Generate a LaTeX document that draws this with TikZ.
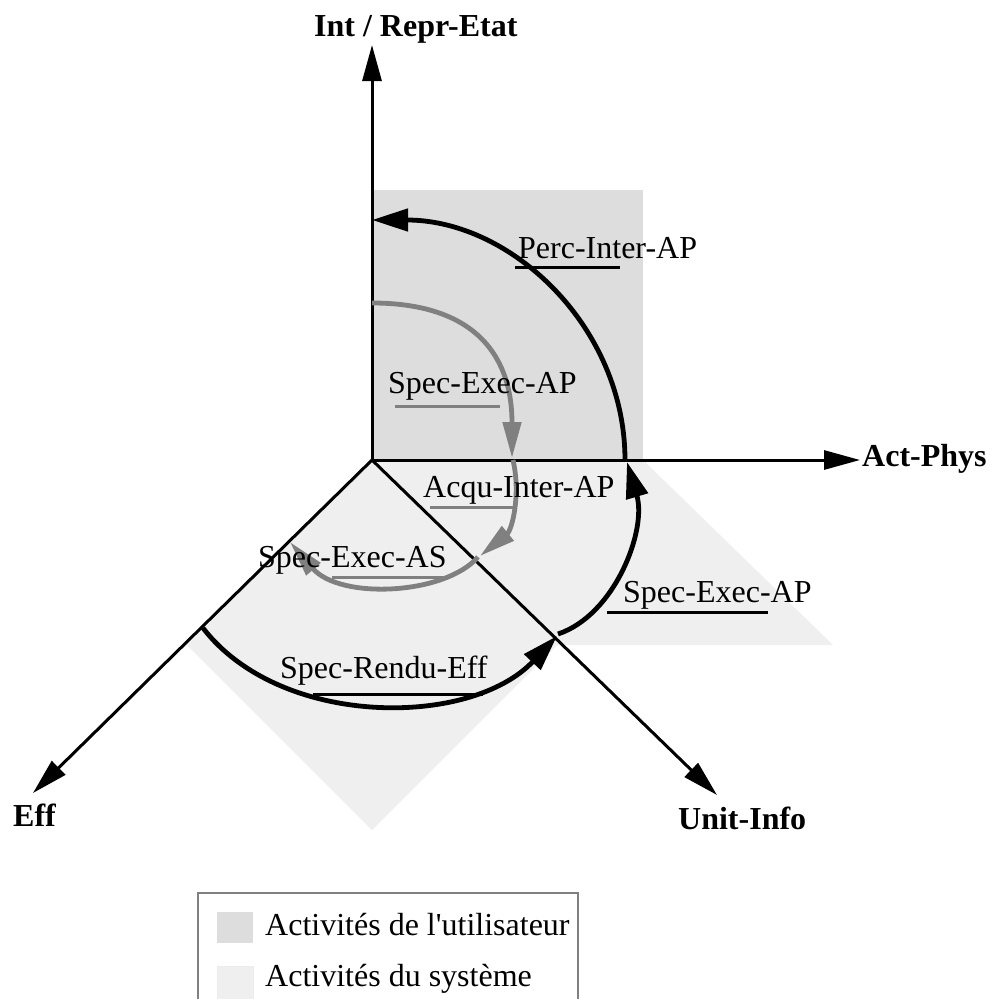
\documentclass[tikz,border=0pt]{standalone}
\usepackage{fontspec}
\setmainfont{Liberation Serif}
\usetikzlibrary{arrows.meta}
\definecolor{usergray}{HTML}{DDDDDD}
\definecolor{sysgray}{HTML}{EFEFEF}
\definecolor{arcgray}{HTML}{808080}
\begin{document}
\begin{tikzpicture}[x=1pt,y=-1pt,
  axis/.style={line width=3pt,-{Triangle[length=36pt,width=19pt]}},
  blackarc/.style={line width=4.8pt,-{Triangle[length=36pt,width=22pt]}},
  grayarc/.style={line width=4.8pt,arcgray,-{Triangle[length=36pt,width=18pt]}},
  lbl/.style={font=\fontsize{32}{38}\selectfont, anchor=base west, inner sep=0pt},
  axlbl/.style={font=\fontsize{32}{38}\selectfont\bfseries, anchor=base west, inner sep=0pt},
  uline/.style={line width=3pt},
  guline/.style={line width=3pt,arcgray},
]
\useasboundingbox (0,0) rectangle (989,999);
% shaded regions
\fill[sysgray] (372,460) -- (643,460) -- (833,645) -- (557,645) -- (372,830) -- (187,645) -- cycle;
\fill[usergray] (372,190) rectangle (643,460);
% axes
\coordinate (O) at (372,460);
\coordinate (tipN) at (372,45);
\coordinate (tipE) at (860,460);
\coordinate (tipSW) at (33,793);
\coordinate (tipSE) at (717,795);
\draw[axis] (O) -- (tipN);
\draw[axis] (O) -- (tipE);
\draw[axis] (O) -- (tipSW);
\draw[axis] (O) -- (tipSE);
\node[axlbl] (lN) at (314,36) {Int / Repr-Etat};
\node[axlbl] (lE) at (862,466) {Act-Phys};
\node[axlbl] (lSW) at (13,826) {Eff};
\node[axlbl] (lSE) at (678,829) {Unit-Info};
% black arcs
\coordinate (a1s) at (625,460);
\coordinate (b1s) at (558,634);
\coordinate (b1e) at (627,462);
\coordinate (c1s) at (203,628);
\coordinate (c1e) at (557,636);
\draw[blackarc] (a1s) arc[start angle=0,end angle=-90,x radius=253,y radius=240];
\draw[blackarc] (b1s) .. controls (615,615) and (647,530) .. (b1e);
\draw[blackarc] (c1s) .. controls (280,728) and (470,728) .. (c1e);
% gray arcs
\coordinate (g1s) at (372,303);
\coordinate (g1e) at (512,458);
\coordinate (g2s) at (513,460);
\coordinate (g2e) at (480,556);
\coordinate (g3s) at (478,557);
\coordinate (g3e) at (290,542);
\draw[grayarc] (g1s) .. controls (469,303) and (512,350) .. (g1e);
\draw[grayarc] (g2s) .. controls (521,495) and (512,530) .. (g2e);
\draw[grayarc] (g3s) .. controls (445,595) and (340,600) .. (g3e);
% labels
\node[lbl] (perc) at (518,258) {Perc-Inter-AP};
\draw[uline] (515,267) -- (620,267);
\node[lbl] (sea1) at (388,393) {Spec-Exec-AP};
\draw[guline] (395,406) -- (500,406);
\node[lbl] (acq) at (423,497) {Acqu-Inter-AP};
\draw[guline] (430,507) -- (517,507);
\node[lbl] (seas) at (258,567) {Spec-Exec-AS};
\draw[guline] (332,577) -- (443,577);
\node[lbl] (sre) at (280,678) {Spec-Rendu-Eff};
\draw[uline] (313,694) -- (483,694);
\node[lbl] (sea2) at (623,602) {Spec-Exec-AP};
\draw[uline] (607,612) -- (768,612);
% legend
\draw[line width=2.5pt, arcgray] (198,893) rectangle (578,1030);
\fill[usergray] (217,912) rectangle (253,943);
\node[lbl] (leg1) at (265,935) {Activités de l\textquotesingle utilisateur};
\filldraw[fill=sysgray, draw=gray!15, line width=1pt] (217,966) rectangle (253,1010);
\node[lbl] (leg2) at (265,986) {Activités du système};
\end{tikzpicture}
\end{document}
